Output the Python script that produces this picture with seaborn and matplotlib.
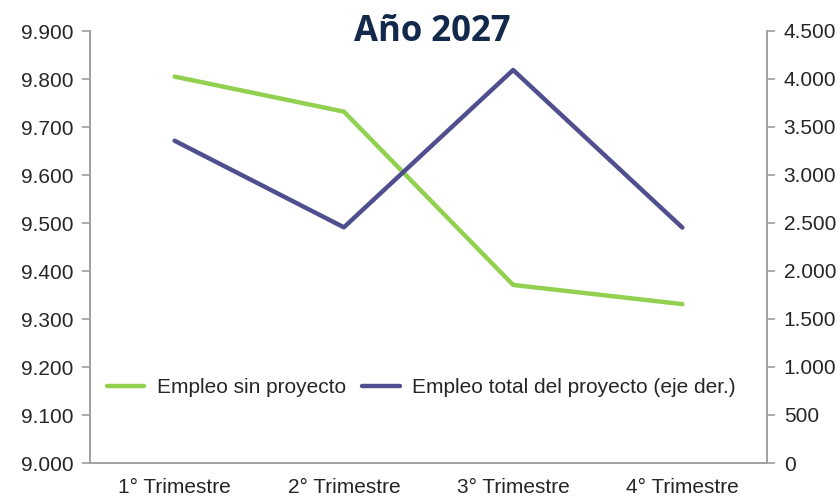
import pandas as pd
import matplotlib.pyplot as plt
import seaborn as sns
from matplotlib.ticker import FuncFormatter, FixedLocator

# Data
trimestres = ["1° Trimestre", "2° Trimestre", "3° Trimestre", "4° Trimestre"]
empleo_sin_proyecto = [9805, 9732, 9371, 9331]
empleo_total_proyecto = [3357, 2455, 4094, 2452]

df = pd.DataFrame({
    "Trimestre": trimestres,
    "sin": empleo_sin_proyecto,
    "total": empleo_total_proyecto,
})

sns.set_theme(style="white")
plt.rcParams['font.family'] = ['Liberation Sans', 'DejaVu Sans']

green = "#92D050"
purple = "#4F4F8F"
gray = "#A0A0A0"
fs = 15

fig = plt.figure(figsize=(8.4, 4.98), dpi=100)
ax = fig.add_axes([90 / 840, 1 - 463 / 498, 677 / 840, 432 / 498])
ax2 = ax.twinx()

sns.lineplot(data=df, x="Trimestre", y="sin", ax=ax, color=green, lw=3.2,
             label="Empleo sin proyecto", legend=False)
sns.lineplot(data=df, x="Trimestre", y="total", ax=ax2, color=purple, lw=3.2,
             label="Empleo total del proyecto (eje der.)", legend=False)

ax.set_xlim(-0.5, len(trimestres) - 0.5)
ax.set_ylim(9000, 9900)
ax2.set_ylim(0, 4500)
ax.set_yticks(range(9000, 9901, 100))
ax2.set_yticks(range(0, 4501, 500))

fmt = FuncFormatter(lambda v, p: f"{int(v):,}".replace(",", "."))
ax.yaxis.set_major_formatter(fmt)
ax2.yaxis.set_major_formatter(fmt)

ax.set_xlabel("")
ax.set_ylabel("")
ax2.set_ylabel("")

# category labels centered, tick marks at boundaries
ax.tick_params(axis="x", which="major", length=0, labelsize=fs, pad=11)
ax.xaxis.set_minor_locator(FixedLocator([i - 0.5 for i in range(len(trimestres) + 1)]))
ax.tick_params(axis="x", which="minor", length=6, width=1.2, color=gray, direction="out")
ax.tick_params(axis="y", length=6, width=1.2, color=gray, labelsize=fs, pad=6, left=True)
ax2.tick_params(axis="y", length=6, width=1.2, color=gray, labelsize=fs, pad=6, right=True)

for a in (ax, ax2):
    for side in ("left", "right", "bottom"):
        a.spines[side].set_color(gray)
        a.spines[side].set_linewidth(1.2)
    a.spines["top"].set_visible(False)
    a.grid(False)

fig.text(0.515, 0.935, "Año 2027", ha="center", va="center", fontsize=25,
         fontweight="bold", color="#13294B", family=["Open Sans", "DejaVu Sans"])

h1, l1 = ax.get_legend_handles_labels()
h2, l2 = ax2.get_legend_handles_labels()
ax2.legend(h1 + h2, l1 + l2, loc="center left", bbox_to_anchor=(0.0, 0.175),
           ncol=2, frameon=False, fontsize=fs, handlelength=1.8,
           handletextpad=0.6, columnspacing=0.8, borderaxespad=0.5,
           borderpad=0.3)

fig.savefig("out.png", dpi=100)
